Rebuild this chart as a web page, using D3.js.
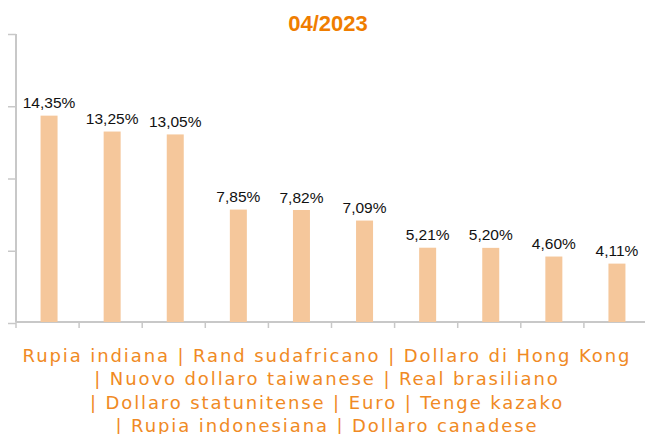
<!DOCTYPE html>
<html>
<head>
<meta charset="utf-8">
<script src="https://cdn.jsdelivr.net/npm/d3@7"></script>
<style>
  body { margin: 0; background: #fff; }
  svg { display: block; }
</style>
</head>
<body>
<svg></svg>
<script>
let width = 645
let height = 434

let title = '04/2023'
let categories = ['Rupia indiana', 'Rand sudafricano', 'Dollaro di Hong Kong',
  'Nuovo dollaro taiwanese', 'Real brasiliano', 'Dollaro statunitense', 'Euro',
  'Tenge kazako', 'Rupia indonesiana', 'Dollaro canadese']
let values = [14.35, 13.25, 13.05, 7.85, 7.82, 7.09, 5.21, 5.20, 4.60, 4.11]
let yTicks = [0, 5, 10, 15, 20]
// which categories go on each line of the bottom caption
let captionRows = [[0, 1, 2], [3, 4], [5, 6, 7], [8, 9]]

let axisColor = '#c8c8c8'
let barColor = '#f5c79b'
let orange = '#ef7d00'

let svg = d3.select('svg')
    .attr('width', width)
    .attr('height', height)

let x = d3.scaleBand()
    .domain(categories)
    .range([16, 647])

let y = d3.scaleLinear()
    .domain([0, 20])
    .range([323, 34])

let barW = 17
let fmt = v => v.toFixed(2).replace('.', ',') + '%'

// title
svg.append('text')
    .attr('x', 328)
    .attr('y', 31)
    .attr('text-anchor', 'middle')
    .style('font-family', '"Liberation Sans", Arial, sans-serif')
    .style('font-weight', 'bold')
    .style('font-size', '22px')
    .attr('fill', orange)
    .text(title)

// y axis
let yAxis = svg.append('g')
    .attr('transform', 'translate(16,0)')
    .call(d3.axisLeft(y).tickValues(yTicks).tickSize(8).tickFormat(''))
yAxis.select('.domain').remove()
yAxis.selectAll('line').attr('stroke', axisColor).attr('stroke-width', 1.5)
svg.append('line')
    .attr('x1', 16).attr('x2', 16)
    .attr('y1', y(20)).attr('y2', 322)
    .attr('stroke', axisColor).attr('stroke-width', 2)

// x axis
svg.append('line')
    .attr('x1', 16).attr('x2', width)
    .attr('y1', 322).attr('y2', 322)
    .attr('stroke', axisColor).attr('stroke-width', 2)

svg.selectAll('.xtick')
  .data(categories)
  .enter()
  .append('line')
    .classed('xtick', true)
    .attr('x1', d => x(d)).attr('x2', d => x(d))
    .attr('y1', 322).attr('y2', 328)
    .attr('stroke', axisColor).attr('stroke-width', 1.5)

let data = categories.map((c, i) => ({ cat: c, value: values[i] }))

// bars
svg.selectAll('.bar')
  .data(data)
  .enter()
  .append('rect')
    .classed('bar', true)
    .attr('x', d => x(d.cat) + (x.bandwidth() - barW) / 2 + 1.5)
    .attr('y', d => y(d.value))
    .attr('width', barW)
    .attr('height', d => 322 - y(d.value))
    .attr('fill', barColor)

// value labels
svg.selectAll('.label')
  .data(data)
  .enter()
  .append('text')
    .classed('label', true)
    .attr('x', d => x(d.cat) + x.bandwidth() / 2 + 1.5)
    .attr('y', d => y(d.value) - 7.5)
    .attr('text-anchor', 'middle')
    .style('font-family', '"Liberation Sans", Arial, sans-serif')
    .style('font-size', '15.5px')
    .attr('fill', '#111')
    .text(d => fmt(d.value))

// bottom caption with the category names
svg.selectAll('.caption')
  .data(captionRows)
  .enter()
  .append('text')
    .classed('caption', true)
    .attr('x', 327)
    .attr('y', (d, i) => 362 + i * 23.3)
    .attr('text-anchor', 'middle')
    .style('font-family', '"DejaVu Sans", Verdana, sans-serif')
    .style('font-size', '18px')
    .style('letter-spacing', '1.9px')
    .attr('fill', '#f08a24')
    .text((d, i) => (i > 0 ? '| ' : '') + d.map(k => categories[k]).join(' | '))
</script>
</body>
</html>
